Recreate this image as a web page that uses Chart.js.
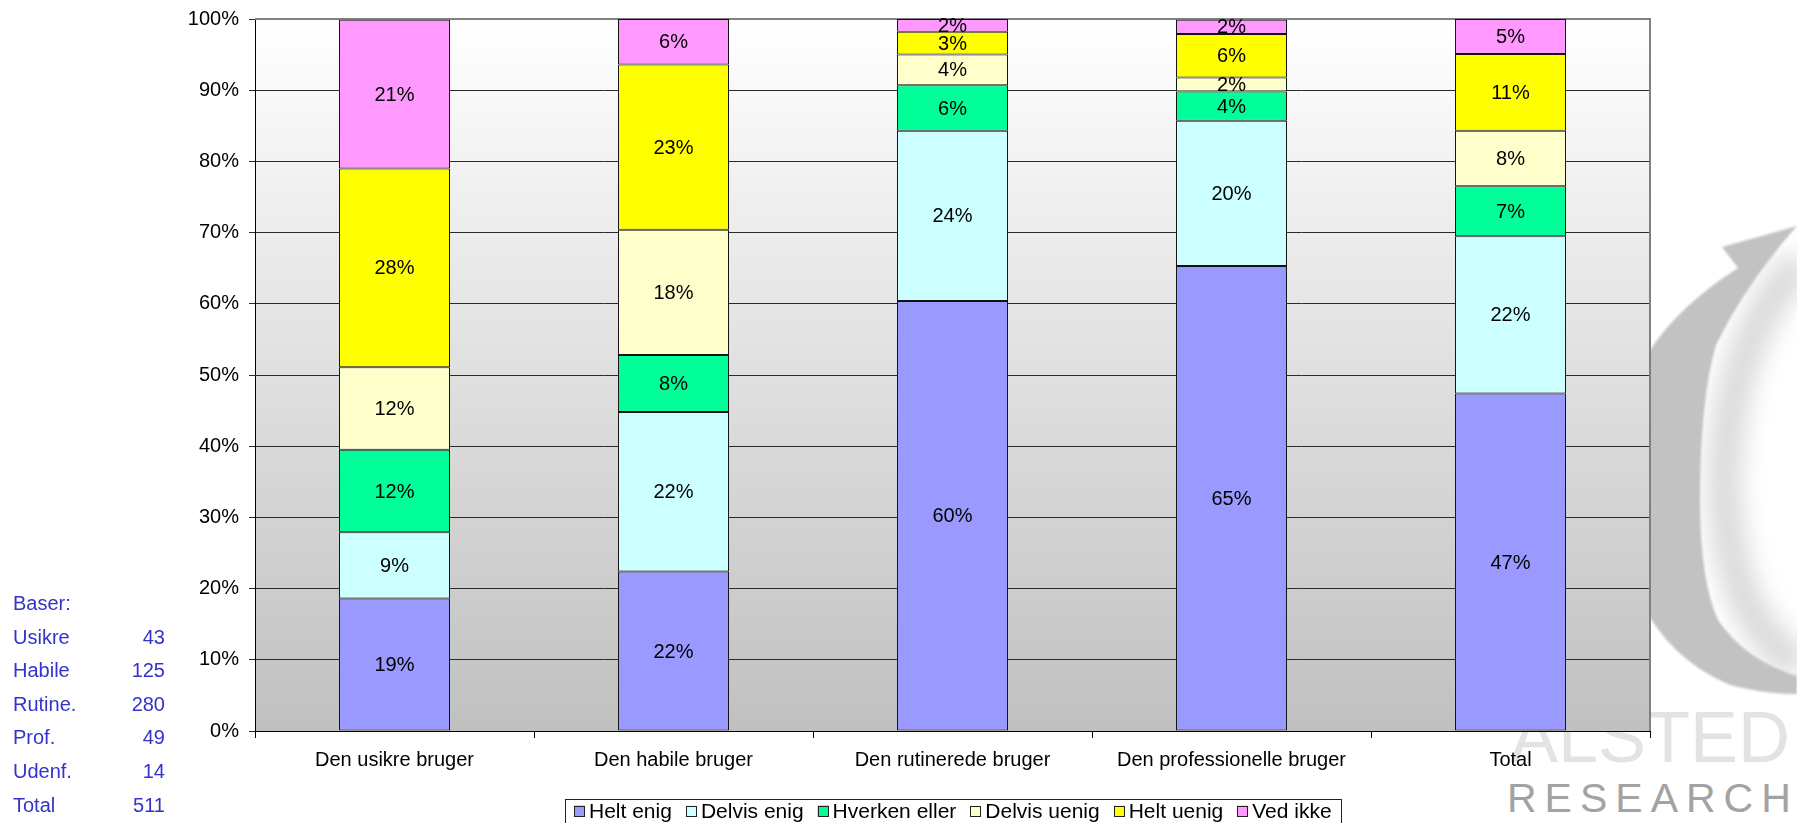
<!DOCTYPE html>
<html>
<head>
<meta charset="utf-8">
<script src="https://cdn.jsdelivr.net/npm/chart.js@4.4.1/dist/chart.umd.min.js"></script>
<style>
  html, body { margin: 0; padding: 0; background: #ffffff; }
  #wrap { position: relative; width: 1797px; height: 823px; overflow: hidden; font-family: "Liberation Sans", Arial, sans-serif; }
  #wm { position: absolute; left: 0; top: 0; width: 1797px; height: 823px; z-index: 0; }
  #chartBox { position: absolute; left: 0; top: 0; width: 1797px; height: 823px; z-index: 1; }
  #bases { position: absolute; left: 13px; top: 587px; width: 152px; z-index: 2; color: #3333cc; font-size: 20px; line-height: 33.6px; }
  #bases .row { display: flex; justify-content: space-between; height: 33.6px; }
</style>
</head>
<body>
<div id="wrap">
  <svg id="wm" width="1797" height="823" xmlns="http://www.w3.org/2000/svg">
    <defs>
      <filter id="blur1" x="-50%" y="-50%" width="200%" height="200%"><feGaussianBlur stdDeviation="12"/></filter>
      <filter id="blur2" x="-10%" y="-10%" width="120%" height="120%"><feGaussianBlur stdDeviation="1.2"/></filter>
    </defs>
    <path d="M 1800 262 Q 1728 340 1724 480 Q 1726 620 1800 666" fill="none" stroke="#dadada" stroke-width="34" filter="url(#blur1)"/>
    <path d="M 1797 226 L 1722 247 L 1738 268 Q 1680 305 1650 350 L 1640 360 L 1640 600 Q 1670 660 1730 685 Q 1765 694 1797 694 L 1797 676 Q 1745 660 1718 620 Q 1700 580 1700 500 Q 1700 400 1716 345 Q 1745 285 1797 226 Z" fill="#c2c2c2" filter="url(#blur2)"/>
    <text x="1510" y="762" font-family="Liberation Sans, Arial, sans-serif" font-size="72" fill="#e3e3e3">ALSTED</text>
    <text x="1507" y="812" font-family="Liberation Sans, Arial, sans-serif" font-size="41" fill="#a3a3a3" letter-spacing="8">RESEARCH</text>
  </svg>
  <div id="chartBox"><canvas id="c"></canvas></div>
  <div id="bases"></div>
</div>
<script>
// ---- data ----
const categories = ['Den usikre bruger', 'Den habile bruger', 'Den rutinerede bruger', 'Den professionelle bruger', 'Total'];
const seriesNames = ['Helt enig', 'Delvis enig', 'Hverken eller', 'Delvis uenig', 'Helt uenig', 'Ved ikke'];
const heltEnig     = [18.6, 22.4, 60.4, 65.3, 47.4];
const delvisEnig   = [9.3, 22.4, 23.9, 20.4, 22.1];
const hverkenEller = [11.6, 8.0, 6.4, 4.1, 7.0];
const delvisUenig  = [11.6, 17.6, 4.3, 2.0, 7.8];
const heltUenig    = [27.9, 23.2, 3.2, 6.1, 10.8];
const vedIkke      = [20.9, 6.4, 1.8, 2.0, 4.9];
const yTicks = [0, 10, 20, 30, 40, 50, 60, 70, 80, 90, 100];
const baseTitle = 'Baser:';
const baseLabels = ['Usikre', 'Habile', 'Rutine.', 'Prof.', 'Udenf.', 'Total'];
const baseCounts = [43, 125, 280, 49, 14, 511];

// ---- styles ----
const colors = ['#9999ff', '#ccffff', '#00ff99', '#ffffcc', '#ffff00', '#ff99ff'];
const FONT = '"Liberation Sans", Arial, sans-serif';

// base table
const basesEl = document.getElementById('bases');
let html = '<div class="row"><span>' + baseTitle + '</span><span></span></div>';
baseLabels.forEach((l, i) => { html += '<div class="row"><span>' + l + '</span><span>' + baseCounts[i] + '</span></div>'; });
basesEl.innerHTML = html;

const seriesData = [heltEnig, delvisEnig, hverkenEller, delvisUenig, heltUenig, vedIkke];
const datasets = seriesNames.map((n, i) => ({
  label: n,
  data: seriesData[i],
  backgroundColor: colors[i],
  borderColor: '#111111',
  borderWidth: 1,
  borderSkipped: false,
  categoryPercentage: 1.0,
  barPercentage: 0.398
}));

const bgPlugin = {
  id: 'bgPlugin',
  beforeDraw(chart) {
    const { ctx, chartArea: a } = chart;
    const g = ctx.createLinearGradient(0, a.top, 0, a.bottom);
    g.addColorStop(0, '#ffffff');
    g.addColorStop(1, '#c0c0c0');
    ctx.save();
    ctx.fillStyle = g;
    ctx.fillRect(a.left, a.top, a.right - a.left, a.bottom - a.top);
    ctx.restore();
  },
  beforeDatasetsDraw(chart) {
    const { ctx, chartArea: a } = chart;
    ctx.save();
    ctx.strokeStyle = '#808080';
    ctx.lineWidth = 2;
    ctx.beginPath();
    ctx.moveTo(a.left, a.top);
    ctx.lineTo(a.right, a.top);
    ctx.lineTo(a.right, a.bottom);
    ctx.stroke();
    ctx.restore();
  }
};

const labelPlugin = {
  id: 'labelPlugin',
  afterDatasetsDraw(chart) {
    const { ctx } = chart;
    ctx.save();
    ctx.font = '20px ' + FONT;
    ctx.fillStyle = '#000';
    ctx.textAlign = 'center';
    ctx.textBaseline = 'middle';
    chart.data.datasets.forEach((ds, di) => {
      const meta = chart.getDatasetMeta(di);
      meta.data.forEach((el, i) => {
        const v = ds.data[i];
        const yc = (el.y + el.base) / 2;
        ctx.fillText(Math.round(v) + '%', el.x, yc + 1);
      });
    });
    ctx.restore();
  }
};

const legendPlugin = {
  id: 'legendPlugin',
  afterDraw(chart) {
    const { ctx, chartArea: a } = chart;
    const ds = chart.data.datasets;
    const fs = 21, mk = 11, gap = 4, spacing = 14, pad = 9;
    ctx.save();
    ctx.font = fs + 'px ' + FONT;
    const widths = ds.map(d => mk + gap + ctx.measureText(d.label).width);
    const total = widths.reduce((s, w) => s + w, 0) + spacing * (ds.length - 1) + pad * 2;
    const cx = (a.left + a.right) / 2;
    const left = Math.round(cx - total / 2);
    const top = 799, cy = 811;
    ctx.fillStyle = '#ffffff';
    ctx.fillRect(left, top, total, 30);
    ctx.strokeStyle = '#222';
    ctx.lineWidth = 1;
    ctx.strokeRect(left + 0.5, top + 0.5, Math.round(total), 30);
    let x = left + pad;
    ctx.textBaseline = 'middle';
    ctx.textAlign = 'left';
    ds.forEach((d, i) => {
      ctx.fillStyle = d.backgroundColor;
      ctx.fillRect(x, cy - mk / 2, mk, mk);
      ctx.strokeStyle = '#222';
      ctx.strokeRect(Math.round(x) + 0.5, Math.round(cy - mk / 2) + 0.5, mk - 1, mk - 1);
      ctx.fillStyle = '#000';
      ctx.fillText(d.label, x + mk + gap, cy + 1);
      x += widths[i] + spacing;
    });
    ctx.restore();
  }
};

new Chart(document.getElementById('c'), {
  type: 'bar',
  data: { labels: categories, datasets },
  options: {
    responsive: true,
    maintainAspectRatio: false,
    animation: false,
    layout: { padding: { top: 19, right: 147, left: 0, bottom: 0 } },
    plugins: { legend: { display: false }, tooltip: { enabled: false } },
    scales: {
      x: {
        stacked: true,
        afterFit(s) { s.height = 92; },
        grid: { offset: true, drawOnChartArea: false, drawTicks: true, tickLength: 7, color: '#000', lineWidth: 1 },
        border: { display: true, color: '#000', width: 1 },
        ticks: { color: '#000', font: { family: FONT, size: 20 }, padding: 10, maxRotation: 0, autoSkip: false }
      },
      y: {
        stacked: true,
        min: 0, max: 100,
        afterFit(s) { s.width = 255; s.paddingTop = 0; s.paddingBottom = 0; },
        afterBuildTicks(s) { s.ticks = yTicks.map(v => ({ value: v })); },
        grid: { color: '#2a2a2a', lineWidth: 1, drawTicks: true, tickLength: 6 },
        border: { display: true, color: '#000', width: 1 },
        ticks: { color: '#000', font: { family: FONT, size: 20, lineHeight: 1.0 }, padding: 10, callback: v => v + '%' }
      }
    }
  },
  plugins: [bgPlugin, labelPlugin, legendPlugin]
});
</script>
</body>
</html>
